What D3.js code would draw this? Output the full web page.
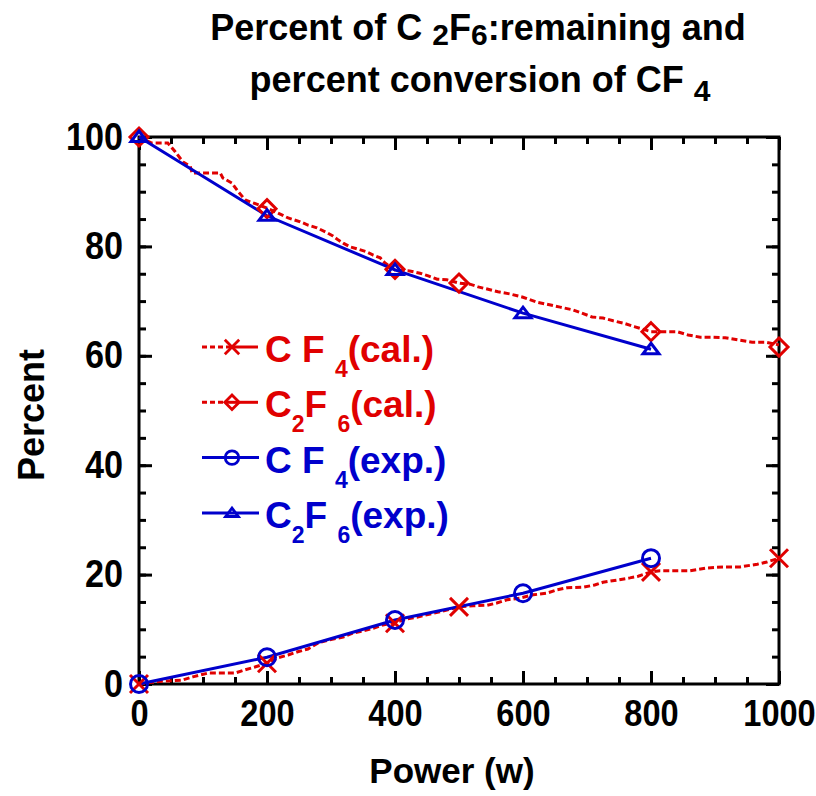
<!DOCTYPE html>
<html>
<head>
<meta charset="utf-8">
<script src="https://cdn.jsdelivr.net/npm/d3@7"></script>
<style>
  body { margin: 0; background: #fff; }
  text { font-family: "Liberation Sans", Arial, sans-serif; font-weight: bold; }
</style>
</head>
<body>
<div id="chart"></div>
<script>
// Data (power in W, percent)

// calculated C2F6 remaining (dense curve)
var c2f6CalX = [0, 20, 45, 56, 69, 80, 83, 127, 131, 145, 155, 166, 200, 217, 233, 252, 264, 278, 294, 303, 311, 319, 330, 342, 356, 366, 377, 384, 400, 423, 439, 452, 466, 481, 500, 517, 530, 544, 561, 580, 600, 622, 634, 658, 678, 692, 708, 725, 741, 756, 775, 800, 822, 841, 858, 877, 895, 916, 936, 958, 978, 1000];
var c2f6CalY = [100, 98.9, 98.9, 97.4, 95.4, 94.7, 93.4, 93.4, 92.5, 91.6, 90.0, 88.5, 87.0, 86.1, 85.2, 84.5, 83.9, 83.4, 82.5, 81.9, 81.2, 80.6, 79.9, 79.5, 79.0, 78.4, 77.9, 77.0, 75.7, 75.5, 75.1, 74.6, 74.0, 73.9, 73.3, 73.1, 72.6, 72.2, 71.7, 71.3, 70.7, 69.8, 69.5, 68.9, 68.4, 67.8, 67.1, 66.9, 66.4, 66.0, 65.3, 64.4, 64.4, 64.4, 63.8, 63.4, 63.4, 63.3, 62.9, 62.5, 62.5, 62.0];

// calculated CF4 conversion (dense curve)
var cf4CalX = [0, 20, 36, 67, 84, 108, 130, 150, 166, 181, 200, 217, 233, 248, 264, 280, 295, 311, 319, 334, 350, 366, 381, 400, 419, 434, 455, 470, 500, 522, 544, 559, 575, 595, 616, 637, 653, 669, 694, 712, 725, 747, 767, 780, 800, 814, 841, 861, 887, 913, 939, 966, 981, 1000];
var cf4CalY = [0, 0.3, 0.5, 0.7, 1.3, 2.0, 2.0, 2.0, 2.6, 3.1, 3.8, 4.8, 5.3, 5.9, 6.4, 7.5, 8.0, 8.4, 8.6, 9.3, 9.7, 10.2, 10.8, 11.2, 11.9, 12.2, 12.8, 13.2, 14.1, 14.3, 14.4, 14.8, 15.4, 15.7, 16.3, 16.6, 17.2, 17.6, 17.7, 18.1, 18.6, 19.0, 19.4, 19.7, 20.5, 20.7, 20.7, 20.7, 21.2, 21.4, 21.4, 21.9, 22.3, 23.0];

// markers on the calculated curves
var calMarkX = [0, 200, 400, 500, 800, 1000];
var c2f6CalMarks = [100, 86.9, 75.8, 73.3, 64.4, 61.6];
var cf4CalMarks = [0, 3.8, 11.1, 14.1, 20.5, 23.0];

// experiment
var expX = [0, 200, 400, 600, 800];
var cf4Exp = [0, 4.9, 11.7, 16.6, 23.0];
var c2f6Exp = [100, 85.6, 75.7, 67.8, 61.2];

var xTicks = [0, 200, 400, 600, 800, 1000];
var yTicks = [0, 20, 40, 60, 80, 100];

var red = "#e00000";
var blue = "#0000cc";

var svg = d3.select("#chart").append("svg")
  .attr("width", 816)
  .attr("height", 796);

var xScale = d3.scaleLinear().domain([0, 1000]).range([139, 779]);
var yScale = d3.scaleLinear().domain([0, 100]).range([684, 137]);

var minorX = d3.range(0, 1001, 50);
var minorY = d3.range(0, 101, 5);

// frame
svg.append("rect")
  .attr("x", xScale(0)).attr("y", yScale(100))
  .attr("width", xScale(1000) - xScale(0))
  .attr("height", yScale(0) - yScale(100))
  .attr("fill", "none").attr("stroke", "#000").attr("stroke-width", 3);

// ticks on all four sides, pointing inward
function tickAxis(axis, pos, size, values, labels) {
  var g = svg.append("g")
    .attr("transform", pos)
    .call(axis.tickValues(values).tickSize(size).tickSizeOuter(0)
      .tickFormat(labels ? (d) => d : () => ""));
  g.select(".domain").remove();
  g.selectAll("line").attr("stroke", "#000").attr("stroke-width", 3);
  return g;
}

tickAxis(d3.axisBottom(xScale), `translate(0,${yScale(0)})`, -7, minorX, false);
tickAxis(d3.axisTop(xScale), `translate(0,${yScale(100)})`, -7, minorX, false);
tickAxis(d3.axisLeft(yScale), `translate(${xScale(0)},0)`, -7, minorY, false);
tickAxis(d3.axisRight(yScale), `translate(${xScale(1000)},0)`, -7, minorY, false);
tickAxis(d3.axisTop(xScale), `translate(0,${yScale(100)})`, -13, xTicks, false);
tickAxis(d3.axisRight(yScale), `translate(${xScale(1000)},0)`, -13, yTicks, false);

// tick labels are a slightly condensed bold face in the reference
var xAxis = tickAxis(d3.axisBottom(xScale).tickPadding(16), `translate(0,${yScale(0)})`, -13, xTicks, true);
xAxis.selectAll("text").attr("font-size", 37).attr("fill", "#000")
  .attr("transform", "scale(0.88,1)")
  .style("font-family", "'Liberation Sans', Arial, sans-serif").style("font-weight", "bold");

var yAxis = tickAxis(d3.axisLeft(yScale).tickPadding(15), `translate(${xScale(0)},0)`, -13, yTicks, true);
yAxis.selectAll("text").attr("font-size", 38).attr("fill", "#000")
  .attr("x", -16 / 0.9)
  .attr("transform", "scale(0.9,1)")
  .style("font-family", "'Liberation Sans', Arial, sans-serif").style("font-weight", "bold");

// lines
var line = d3.line()
  .x(function (d) { return xScale(d[0]); })
  .y(function (d) { return yScale(d[1]); });

function pairs(xs, ys) { return xs.map(function (v, i) { return [v, ys[i]]; }); }

svg.append("path")
  .attr("fill", "none").attr("stroke", red).attr("stroke-width", 3)
  .attr("stroke-dasharray", "6,3")
  .attr("d", line(pairs(c2f6CalX, c2f6CalY)));

svg.append("path")
  .attr("fill", "none").attr("stroke", red).attr("stroke-width", 3)
  .attr("stroke-dasharray", "6,3")
  .attr("d", line(pairs(cf4CalX, cf4CalY)));

svg.append("path")
  .attr("fill", "none").attr("stroke", blue).attr("stroke-width", 3)
  .attr("d", line(pairs(expX, cf4Exp)));

svg.append("path")
  .attr("fill", "none").attr("stroke", blue).attr("stroke-width", 3)
  .attr("d", line(pairs(expX, c2f6Exp)));

// marker shapes
var shapes = {
  cross: "M-9,-9L9,9M-9,9L9,-9",
  diamond: "M0,-9L9,0L0,9L-9,0Z",
  circle: "M8.5,0A8.5,8.5 0 1,1 -8.5,0A8.5,8.5 0 1,1 8.5,0Z",
  triangle: "M0,-6L8,4.5L-8,4.5Z"
};

function markers(xs, ys, shape, color) {
  svg.append("g").selectAll("path")
    .data(pairs(xs, ys))
    .enter()
    .append("path")
    .attr("transform", function (d) { return `translate(${xScale(d[0])},${yScale(d[1])})`; })
    .attr("d", shapes[shape])
    .attr("fill", "none")
    .attr("stroke", color)
    .attr("stroke-width", 3);
}

markers(calMarkX, cf4CalMarks, "cross", red);
markers(calMarkX, c2f6CalMarks, "diamond", red);
markers(expX, cf4Exp, "circle", blue);
markers(expX, c2f6Exp, "triangle", blue);

// legend
var legend = [
  { pre: "C F ", s1: "", mid: "", s2: "4", post: "(cal.)", color: red, shape: "cross", dashed: true },
  { pre: "C", s1: "2", mid: "F ", s2: "6", post: "(cal.)", color: red, shape: "diamond", dashed: true },
  { pre: "C F ", s1: "", mid: "", s2: "4", post: "(exp.)", color: blue, shape: "circle", dashed: false },
  { pre: "C", s1: "2", mid: "F ", s2: "6", post: "(exp.)", color: blue, shape: "triangle", dashed: false }
];

legend.forEach(function (d, i) {
  var ly = 347 + i * 55.3;
  var g = svg.append("g");
  if (d.dashed) {
    g.append("line").attr("x1", 202).attr("x2", 230).attr("y1", ly).attr("y2", ly)
      .attr("stroke", d.color).attr("stroke-width", 3).attr("stroke-dasharray", "5,3");
    g.append("line").attr("x1", 230).attr("x2", 258).attr("y1", ly).attr("y2", ly)
      .attr("stroke", d.color).attr("stroke-width", 3);
  } else {
    g.append("line").attr("x1", 202).attr("x2", 259).attr("y1", ly).attr("y2", ly)
      .attr("stroke", d.color).attr("stroke-width", 3);
  }
  g.append("path")
    .attr("transform", `translate(232,${ly}) scale(0.8)`)
    .attr("d", shapes[d.shape])
    .attr("fill", "none").attr("stroke", d.color).attr("stroke-width", 3.5);

  var t = g.append("text").attr("x", 265).attr("y", ly + 15)
    .attr("font-size", 37).attr("fill", d.color);
  t.append("tspan").text(d.pre);
  if (d.s1) {
    t.append("tspan").attr("font-size", 23).attr("dy", 15).text(d.s1);
    t.append("tspan").attr("dy", -15).text(d.mid);
  }
  t.append("tspan").attr("font-size", 23).attr("dy", 15).text(d.s2);
  t.append("tspan").attr("dy", -15).text(d.post);
});

// title
var t1 = svg.append("text").attr("x", 478).attr("y", 40)
  .attr("text-anchor", "middle").attr("font-size", 36);
t1.append("tspan").text("Percent of C ");
t1.append("tspan").attr("font-size", 30).attr("dy", 5).text("2");
t1.append("tspan").attr("dy", -5).text("F");
t1.append("tspan").attr("font-size", 30).attr("dy", 5).text("6");
t1.append("tspan").attr("dy", -5).text(":remaining and");

var t2 = svg.append("text").attr("x", 480).attr("y", 92)
  .attr("text-anchor", "middle").attr("font-size", 36);
t2.append("tspan").text("percent conversion of CF ");
t2.append("tspan").attr("font-size", 30).attr("dy", 9).text("4");

// axis labels
svg.append("text")
  .attr("x", 452).attr("y", 783)
  .attr("text-anchor", "middle").attr("font-size", 35)
  .text("Power (w)");

svg.append("text")
  .attr("transform", "translate(44,415) rotate(-90)")
  .attr("text-anchor", "middle").attr("font-size", 36)
  .text("Percent");
</script>
</body>
</html>
